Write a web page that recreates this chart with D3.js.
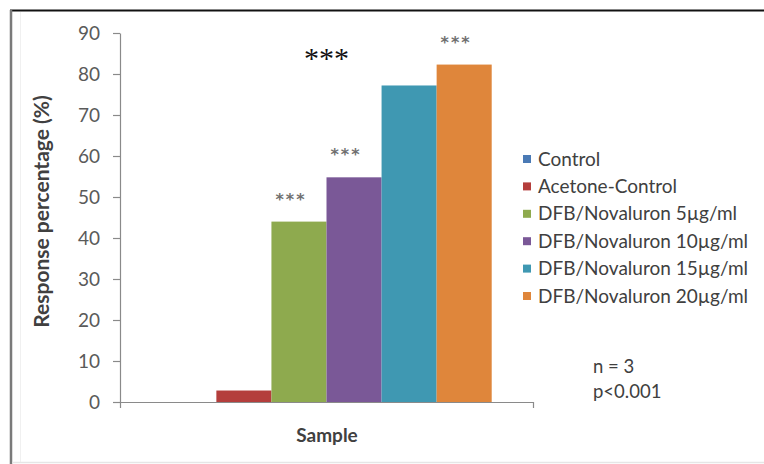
<!DOCTYPE html>
<html>
<head>
<meta charset="utf-8">
<script src="https://cdn.jsdelivr.net/npm/d3@7/dist/d3.min.js"></script>
<style>
  html, body { margin: 0; padding: 0; background: #fff; }
  svg { display: block; }
  text { font-family: Lato, "Open Sans", sans-serif; }
</style>
</head>
<body>
<svg id="chart" width="764" height="464"></svg>
<script>
// Response data for the single sample group
const category = ["Sample"];
const seriesNames = [
  "Control",
  "Acetone-Control",
  "DFB/Novaluron 5µg/ml",
  "DFB/Novaluron 10µg/ml",
  "DFB/Novaluron 15µg/ml",
  "DFB/Novaluron 20µg/ml"
];
const seriesValues = [0, 2.8, 44, 54.8, 77.2, 82.3];
const seriesColors = ["#4a7ab5", "#b43e3c", "#8eaa4e", "#7a5897", "#3f98b2", "#df863b"];
const yTicks = [0, 10, 20, 30, 40, 50, 60, 70, 80, 90];
// significance marks above individual bars (series index)
const marks = [
  { s: 2, text: "***" },
  { s: 3, text: "***" },
  { s: 5, text: "***" }
];
const bigMark = "***";
const notes = ["n = 3", "p<0.001"];

const svg = d3.select("#chart");

// outer frame
svg.append("line").attr("x1", 10).attr("x2", 764).attr("y1", 10.5).attr("y2", 10.5)
  .attr("stroke", "#111").attr("stroke-width", 2.2);
svg.append("line").attr("x1", 11).attr("x2", 11).attr("y1", 10).attr("y2", 464)
  .attr("stroke", "#7a7a7a").attr("stroke-width", 2.5);
svg.append("line").attr("x1", 20.5).attr("x2", 20.5).attr("y1", 12).attr("y2", 462)
  .attr("stroke", "#f0f0f0").attr("stroke-width", 1);
svg.append("line").attr("x1", 12).attr("x2", 764).attr("y1", 462.5).attr("y2", 462.5)
  .attr("stroke", "#e6e6e6").attr("stroke-width", 1.5);

const plot = { left: 120, right: 533, top: 33, bottom: 402 };

const y = d3.scaleLinear().domain([0, 90]).range([plot.bottom, plot.top]);
const x0 = d3.scaleBand().domain(category).range([plot.left, plot.right])
  .paddingInner(0).paddingOuter(0.125);
const x1 = d3.scaleBand().domain(seriesNames).range([0, x0.bandwidth()]).padding(0);

// y axis
const yAxis = svg.append("g").attr("transform", `translate(${plot.left},0)`)
  .call(d3.axisLeft(y).tickValues(yTicks).tickSize(7).tickSizeOuter(0).tickPadding(13));
yAxis.select(".domain").attr("stroke", "#8a8a8a").attr("stroke-width", 1.2);
yAxis.selectAll(".tick line").attr("stroke", "#8a8a8a").attr("stroke-width", 1.2);
yAxis.selectAll(".tick text").attr("fill", "#5a5a5a").style("font-size", "19px")
  .style("font-family", "Lato, sans-serif");

// bars
const g = svg.append("g").attr("transform", `translate(${x0("Sample")},0)`);
g.selectAll("rect").data(seriesValues).join("rect")
  .attr("x", (d, i) => x1(seriesNames[i]))
  .attr("width", x1.bandwidth())
  .attr("y", d => y(d))
  .attr("height", d => y(0) - y(d))
  .attr("fill", (d, i) => seriesColors[i]);

// x axis (drawn after bars so the baseline sits on top)
const xAxis = svg.append("g").attr("transform", `translate(0,${plot.bottom})`)
  .call(d3.axisBottom(x0).tickValues([]).tickSizeOuter(6));
xAxis.select(".domain").attr("stroke", "#8a8a8a").attr("stroke-width", 1.2);

// significance marks above bars
g.selectAll("text.mark").data(marks).join("text")
  .attr("class", "mark")
  .attr("x", d => x1(seriesNames[d.s]) + x1.bandwidth() / 2 - 8)
  .attr("y", d => y(seriesValues[d.s]) - 17)
  .attr("text-anchor", "middle")
  .attr("fill", "#707070")
  .style("font-family", "'DejaVu Sans', sans-serif")
  .style("font-weight", "bold")
  .style("font-size", "16px")
  .style("letter-spacing", "2px")
  .text(d => d.text);

// larger mark over the two highest doses
g.append("text")
  .attr("x", x1(seriesNames[3]))
  .attr("y", y(seriesValues[5]) + 3)
  .attr("text-anchor", "middle")
  .attr("fill", "#111")
  .style("font-family", "'Liberation Serif', serif")
  .style("font-size", "30px")
  .text(bigMark);

// axis titles
svg.append("text")
  .attr("transform", `translate(49,${(plot.top + plot.bottom) / 2 - 6}) rotate(-90)`)
  .attr("text-anchor", "middle")
  .attr("fill", "#404040")
  .style("font-size", "21px").style("font-weight", "bold")
  .text("Response percentage (%)");
svg.append("text")
  .attr("x", 327).attr("y", 442)
  .attr("text-anchor", "middle")
  .attr("fill", "#404040")
  .style("font-size", "19px").style("font-weight", "bold")
  .text(category[0]);

// legend
const legend = svg.append("g").attr("transform", "translate(523,159)");
const rows = legend.selectAll("g").data(seriesNames).join("g")
  .attr("transform", (d, i) => `translate(0,${i * 27.4})`);
rows.append("rect").attr("x", 0).attr("y", -4).attr("width", 8).attr("height", 8)
  .attr("fill", (d, i) => seriesColors[i]);
rows.append("text").attr("x", 15).attr("y", 0).attr("dy", "0.35em")
  .attr("fill", "#404040").style("font-size", "19px")
  .text(d => d);

// notes
svg.append("g").selectAll("text").data(notes).join("text")
  .attr("x", 593).attr("y", (d, i) => 373 + i * 25)
  .attr("fill", "#404040").style("font-size", "18.5px")
  .text(d => d);
</script>
</body>
</html>
